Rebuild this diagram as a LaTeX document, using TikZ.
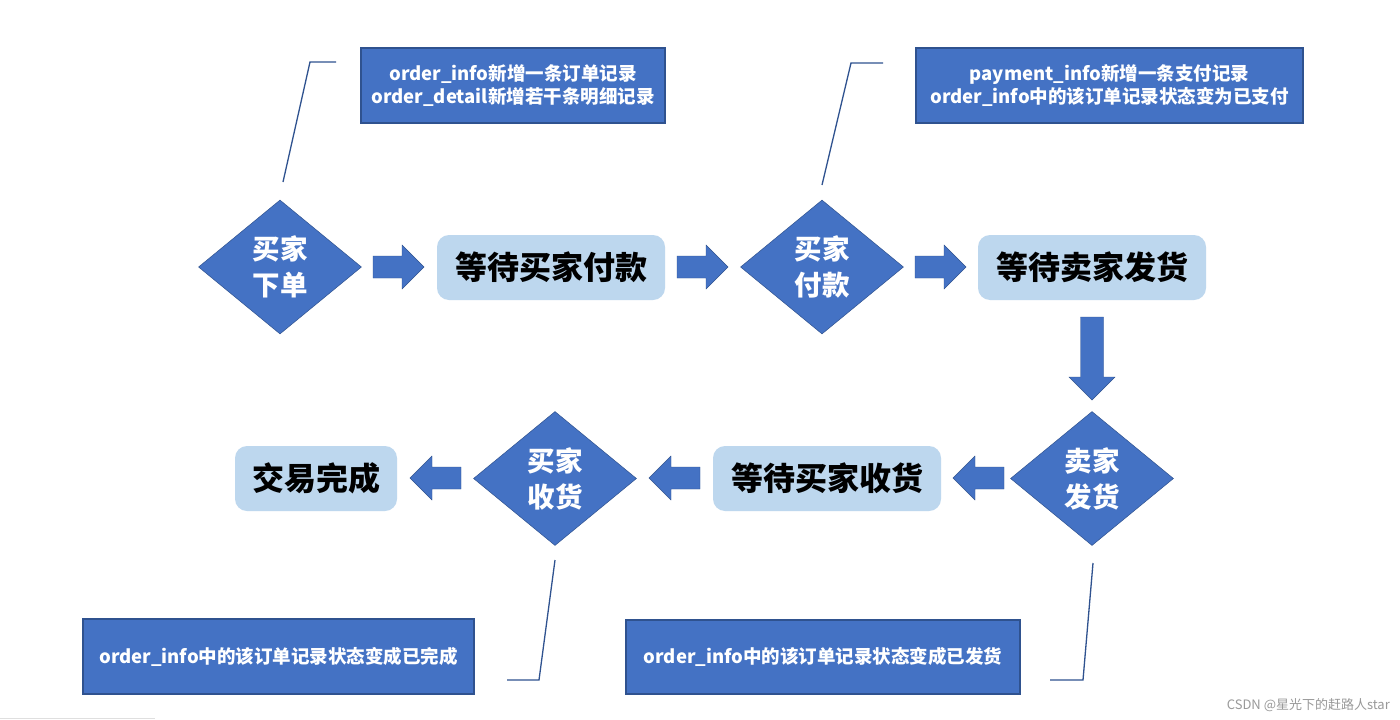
\documentclass[tikz,border=0pt]{standalone}
\usepackage{fontspec}
\newfontfamily\cjk{Noto Sans CJK SC}
\usetikzlibrary{shapes.geometric}
\definecolor{mainblue}{HTML}{4472C4}
\definecolor{edgeblue}{HTML}{2F528F}
\definecolor{lightblue}{HTML}{BDD7EE}
\newcommand{\rarrow}[3]{\path[blockarr] (#1,#3-11) -- (#2-22,#3-11) -- (#2-22,#3-22) -- (#2,#3) -- (#2-22,#3+22) -- (#2-22,#3+11) -- (#1,#3+11) -- cycle;}
\newcommand{\larrow}[3]{\path[blockarr] (#1,#3-11) -- (#2+22,#3-11) -- (#2+22,#3-22) -- (#2,#3) -- (#2+22,#3+22) -- (#2+22,#3+11) -- (#1,#3+11) -- cycle;}
\newcommand{\darrow}[3]{\path[blockarr] (#1-11.5,#2) -- (#1-11.5,#3-23) -- (#1-23,#3-23) -- (#1,#3) -- (#1+23,#3-23) -- (#1+11.5,#3-23) -- (#1+11.5,#2) -- cycle;}
\begin{document}
\begin{tikzpicture}[x=1pt,y=-1pt,
 decision/.style={diamond, fill=mainblue, draw=edgeblue, line width=0.5pt, minimum width=163pt, minimum height=134pt, inner sep=0pt, text=white, font=\cjk\bfseries\fontsize{27.5}{36}\selectfont, align=center},
 state/.style={rectangle, rounded corners=12pt, fill=lightblue, minimum width=228pt, minimum height=65pt, inner sep=0pt, font=\cjk\bfseries\fontsize{32}{36}\selectfont},
 note/.style={rectangle, fill=mainblue, draw=edgeblue, line width=1.2pt, text=white, font=\cjk\bfseries\fontsize{18.5}{23}\selectfont, align=center, inner sep=0pt},
 leader/.style={draw=edgeblue, line width=1.3pt},
 blockarr/.style={fill=mainblue, draw=edgeblue, line width=0.4pt}]
\useasboundingbox (0,0) rectangle (1400,720);
\fill[white] (0,0) rectangle (1400,720);

% callout notes
\node[note, minimum width=304pt, minimum height=75pt] (n1) at (513,85.5) {order\_info新增一条订单记录\\order\_detail新增若干条明细记录};
\node[note, minimum width=387pt, minimum height=75pt] (n2) at (1109.5,85.5) {payment\_info新增一条支付记录\\order\_info中的该订单记录状态变为已支付};
\node[note, minimum width=391pt, minimum height=75pt] (n3) at (278.5,656.5) {order\_info中的该订单记录状态变成已完成};
\node[note, minimum width=394pt, minimum height=74pt] (n4) at (823,657) {order\_info中的该订单记录状态变成已发货};

% top row
\node[decision] (d1) at (280,267) {买家\\下单};
\node[state] (s1) at (551,267.5) {等待买家付款};
\node[decision] (d2) at (822,267) {买家\\付款};
\node[state] (s2) at (1092,267.5) {等待卖家发货};

% bottom row
\node[decision] (d3) at (1092,478.5) {卖家\\发货};
\node[state] (s3) at (827,478.5) {等待买家收货};
\node[decision] (d4) at (555,478.5) {买家\\收货};
\node[state, minimum width=162pt] (s4) at (316,478.5) {交易完成};

% block arrows
\rarrow{373}{424}{267}
\rarrow{677}{728}{267}
\rarrow{915}{966}{267}
\darrow{1092}{317}{400}
\larrow{1004}{953}{478}
\larrow{700}{649}{478}
\larrow{461}{410}{478}

% leader lines
\coordinate (l1a) at (283,182); \coordinate (l1b) at (310,62); \coordinate (l1c) at (336,62);
\draw[leader] (l1a) -- (l1b) -- (l1c);
\coordinate (l2a) at (822,185); \coordinate (l2b) at (851,63); \coordinate (l2c) at (883,63);
\draw[leader] (l2a) -- (l2b) -- (l2c);
\coordinate (l3a) at (555,560); \coordinate (l3b) at (539,680); \coordinate (l3c) at (507,680);
\draw[leader] (l3a) -- (l3b) -- (l3c);
\coordinate (l4a) at (1093,563); \coordinate (l4b) at (1083,680); \coordinate (l4c) at (1050,680);
\draw[leader] (l4a) -- (l4b) -- (l4c);

% faint artifact and watermark
\draw[gray!25, line width=1pt] (0,718) -- (155,718);
\node[anchor=east, text=gray!80, inner sep=0pt, font=\cjk\fontsize{13}{15}\selectfont] (wm) at (1390,705) {CSDN @星光下的赶路人star};
\end{tikzpicture}
\end{document}
